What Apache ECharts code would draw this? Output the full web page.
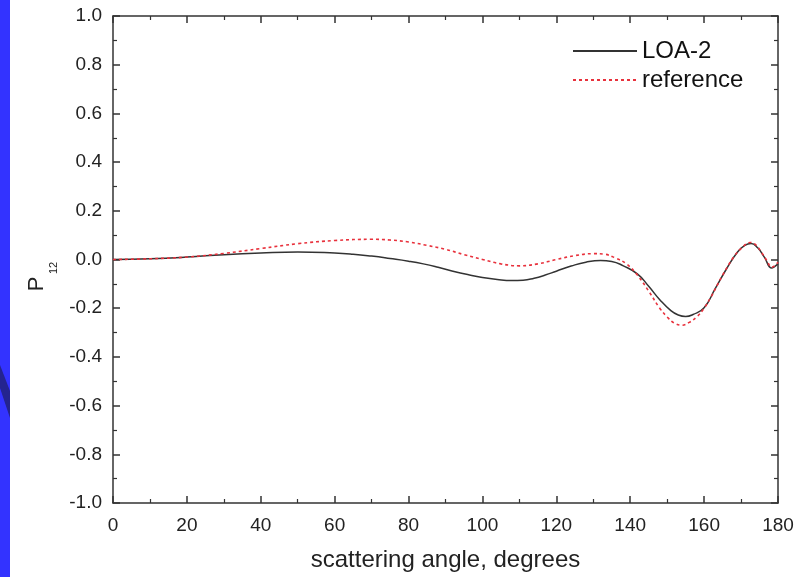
<!DOCTYPE html>
<html>
<head>
<meta charset="utf-8">
<script src="https://cdn.jsdelivr.net/npm/echarts@6/dist/echarts.min.js"></script>
<style>
html,body{margin:0;padding:0;background:#fff;}
#chart{width:806px;height:577px;}
</style>
</head>
<body>
<div id="chart"></div>
<script>
// ---- data ----
var loaAngles = [0, 10, 20, 30, 40, 50, 60, 65, 70, 75, 80, 84, 88, 92, 96, 100, 104, 108, 111, 114, 117, 120, 124, 128, 132, 135, 138, 142, 145, 148, 151, 153, 155, 157, 160, 163, 166, 169, 171, 172.7, 174.5, 176.3, 178.3, 179, 180];
var loaValues = [0, 0.003, 0.01, 0.02, 0.027, 0.031, 0.027, 0.022, 0.014, 0.004, -0.007, -0.018, -0.032, -0.048, -0.062, -0.074, -0.082, -0.086, -0.085, -0.077, -0.064, -0.048, -0.027, -0.011, -0.004, -0.008, -0.025, -0.06, -0.11, -0.165, -0.21, -0.228, -0.234, -0.226, -0.198, -0.12, -0.04, 0.03, 0.058, 0.066, 0.048, 0.01, -0.035, -0.03, -0.018];
var refAngles = [0, 10, 20, 30, 40, 50, 60, 70, 75, 80, 85, 90, 95, 100, 105, 110, 115, 120, 125, 130, 133, 136, 139, 142, 145, 148, 150, 152, 154, 156, 158, 160, 162, 165, 168, 170, 172.5, 174, 175.5, 177, 178.3, 179.2, 180];
var refValues = [0, 0.003, 0.01, 0.025, 0.045, 0.065, 0.078, 0.083, 0.08, 0.072, 0.058, 0.042, 0.02, 0.0, -0.018, -0.026, -0.018, 0.0, 0.016, 0.024, 0.022, 0.006, -0.018, -0.065, -0.13, -0.2, -0.236, -0.262, -0.27, -0.258, -0.236, -0.2, -0.15, -0.065, 0.01, 0.045, 0.07, 0.06, 0.03, -0.005, -0.032, -0.025, -0.011];
var seriesNames = ['LOA-2', 'reference'];
var xTitle = 'scattering angle, degrees';
var yTitleMain = 'P';
var yTitleSub = '12';

function pairs(xs, ys) { return xs.map(function (x, i) { return [x, ys[i]]; }); }

var FONT = '"Liberation Sans", Arial, Helvetica, sans-serif';
var AX = '#333';

function axisCommon(extra) {
  var base = {
    type: 'value',
    axisLine: {show: true, onZero: false, lineStyle: {color: AX, width: 1.5}},
    axisTick: {show: true, inside: true, length: 7, lineStyle: {color: AX, width: 1.5}},
    minorTick: {show: true, splitNumber: 2, length: 4, lineStyle: {color: AX, width: 1.2}},
    splitLine: {show: false}
  };
  for (var k in extra) base[k] = extra[k];
  return base;
}

var chart = echarts.init(document.getElementById('chart'), null, {renderer: 'canvas'});
chart.setOption({
  backgroundColor: '#ffffff',
  animation: false,
  grid: {left: 113, right: 28, top: 16, bottom: 73, containLabel: false},
  legend: {
    orient: 'vertical',
    left: 572,
    top: 39,
    padding: 0,
    itemWidth: 64,
    itemHeight: 14,
    itemGap: 5,
    itemStyle: {opacity: 0},
    textStyle: {fontFamily: FONT, fontSize: 24, color: '#111'},
    data: seriesNames
  },
  xAxis: [
    axisCommon({min: 0, max: 180, interval: 20, position: 'bottom',
      axisLabel: {fontFamily: FONT, fontSize: 19, color: '#222', margin: 13},
      name: xTitle, nameLocation: 'middle', nameGap: 45,
      nameTextStyle: {fontFamily: FONT, fontSize: 24, color: '#222'}}),
    axisCommon({min: 0, max: 180, interval: 20, position: 'top', axisLabel: {show: false}})
  ],
  yAxis: [
    axisCommon({min: -1, max: 1, interval: 0.2, position: 'left',
      axisLabel: {fontFamily: FONT, fontSize: 19, color: '#222', margin: 11,
        formatter: function (v) { return v.toFixed(1); }}}),
    axisCommon({min: -1, max: 1, interval: 0.2, position: 'right', axisLabel: {show: false}})
  ],
  series: [{
    name: seriesNames[0], type: 'line', xAxisIndex: 0, yAxisIndex: 0,
    data: pairs(loaAngles, loaValues), smooth: 0.5, symbol: 'none',
    lineStyle: {color: '#333', width: 1.5, type: 'solid'},
    itemStyle: {color: '#333'}, z: 3
  }, {
    name: seriesNames[1], type: 'line', xAxisIndex: 0, yAxisIndex: 0,
    data: pairs(refAngles, refValues), smooth: 0.4, symbol: 'none',
    lineStyle: {color: '#e8313c', width: 1.6, type: [3, 3]},
    itemStyle: {color: '#e8313c'}, z: 4
  }],
  graphic: [
    {type: 'rect', left: 0, top: 0, shape: {x: 0, y: 0, width: 10, height: 577}, style: {fill: '#3333ff'}, silent: true, z: 100},
    {type: 'polygon', shape: {points: [[0, 365], [0, 388], [10, 418], [10, 391]]}, style: {fill: '#24248f'}, silent: true, z: 101},
    {type: 'text', x: 37, y: 284, rotation: Math.PI / 2, silent: true,
      style: {text: yTitleMain, font: '22px ' + FONT, fill: '#222', align: 'center', verticalAlign: 'middle'}},
    {type: 'text', x: 54, y: 268, rotation: Math.PI / 2, silent: true,
      style: {text: yTitleSub, font: '11px ' + FONT, fill: '#222', align: 'center', verticalAlign: 'middle'}}
  ]
});
</script>
</body>
</html>
